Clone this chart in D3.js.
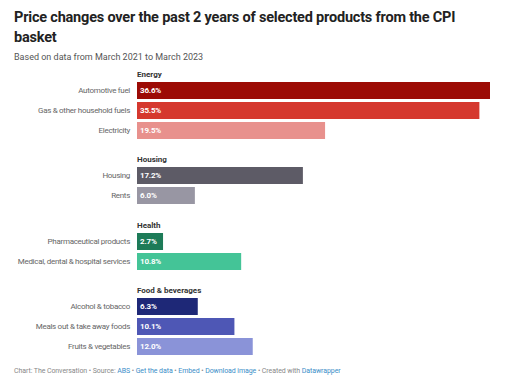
<!DOCTYPE html>
<html>
<head>
<meta charset="utf-8">
<script src="https://cdn.jsdelivr.net/npm/d3@7"></script>
<style>
  body { margin: 0; background: #fff; font-family: Roboto, "Noto Sans", sans-serif; }
</style>
</head>
<body>
<div class="chart"></div>
<script>
var groups = ["Energy", "Housing", "Health", "Food & beverages"];
var categories = [
    ["Automotive fuel", "Gas & other household fuels", "Electricity"],
    ["Housing", "Rents"],
    ["Pharmaceutical products", "Medical, dental & hospital services"],
    ["Alcohol & tobacco", "Meals out & take away foods", "Fruits & vegetables"]
];
var values = [
    [36.6, 35.5, 19.5],
    [17.2, 6.0],
    [2.7, 10.8],
    [6.3, 10.1, 12.0]
];
var colors = [
    ["#9c0b05", "#d5382e", "#e8918d"],
    ["#5d5b66", "#9896a3"],
    ["#1d7b58", "#44c497"],
    ["#1e2877", "#4e57b5", "#8a93d8"]
];

var svgWidth = 505;
var svgHeight = 382;
var barLeft = 137;
var barH = 17;
var step = 20;
var groupTops = [82, 167, 233, 298];

var svg = d3.select(".chart")
    .append("svg")
    .attr("width", svgWidth)
    .attr("height", svgHeight);

// Title + subtitle
svg.append("text")
    .attr("x", 14).attr("y", 22)
    .attr("font-size", 14.5).attr("font-weight", 700).attr("fill", "#222")
    .attr("letter-spacing", -0.2)
    .text("Price changes over the past 2 years of selected products from the CPI");
svg.append("text")
    .attr("x", 14).attr("y", 42)
    .attr("font-size", 14.5).attr("font-weight", 700).attr("fill", "#222")
    .attr("letter-spacing", -0.2)
    .text("basket");
svg.append("text")
    .attr("x", 14).attr("y", 60)
    .attr("font-size", 9).attr("fill", "#555")
    .text("Based on data from March 2021 to March 2023");

var x = d3.scaleLinear()
    .domain([0, 36.6])
    .range([0, 490 - barLeft]);

groups.forEach(function(g, gi) {
    var top = groupTops[gi];
    var chart = svg.append("g");

    chart.append("text")
        .attr("x", barLeft)
        .attr("y", top - 5)
        .attr("font-size", 8).attr("font-weight", 700).attr("fill", "#333")
        .text(g);

    var rows = chart.selectAll("g.row")
        .data(categories[gi].map(function(c, i) { return { name: c, i: i, value: values[gi][i], color: colors[gi][i] }; }))
        .enter()
        .append("g");

    rows.append("rect")
        .attr("x", barLeft + x(0))
        .attr("y", function(d) { return top + d.i * step; })
        .attr("width", function(d) { return x(d.value); })
        .attr("height", barH)
        .attr("fill", function(d) { return d.color; });

    rows.append("text")
        .attr("x", barLeft - 7)
        .attr("y", function(d) { return top + d.i * step + barH / 2; })
        .attr("dy", "0.35em")
        .attr("text-anchor", "end")
        .attr("font-size", 8).attr("fill", "#666")
        .attr("letter-spacing", -0.3)
        .text(function(d) { return d.name; });

    rows.append("text")
        .attr("x", barLeft + 3)
        .attr("y", function(d) { return top + d.i * step + barH / 2; })
        .attr("dy", "0.35em")
        .attr("font-size", 8).attr("font-weight", 700).attr("fill", "#fff")
        .attr("letter-spacing", -0.2)
        .text(function(d) { return d.value.toFixed(1) + "%"; });
});

// Footer
var foot = svg.append("text")
    .attr("x", 14).attr("y", 373)
    .attr("font-size", 7).attr("fill", "#888")
    .attr("letter-spacing", -0.08);
var parts = [
    ["Chart: The Conversation \u2022 Source: ", "#888"],
    ["ABS", "#3a8ec8"], [" \u2022 ", "#888"],
    ["Get the data", "#3a8ec8"], [" \u2022 ", "#888"],
    ["Embed", "#3a8ec8"], [" \u2022 ", "#888"],
    ["Download image", "#3a8ec8"], [" \u2022 Created with ", "#888"],
    ["Datawrapper", "#3a8ec8"]
];
parts.forEach(function(p) {
    foot.append("tspan").attr("fill", p[1]).text(p[0]);
});
</script>
</body>
</html>
